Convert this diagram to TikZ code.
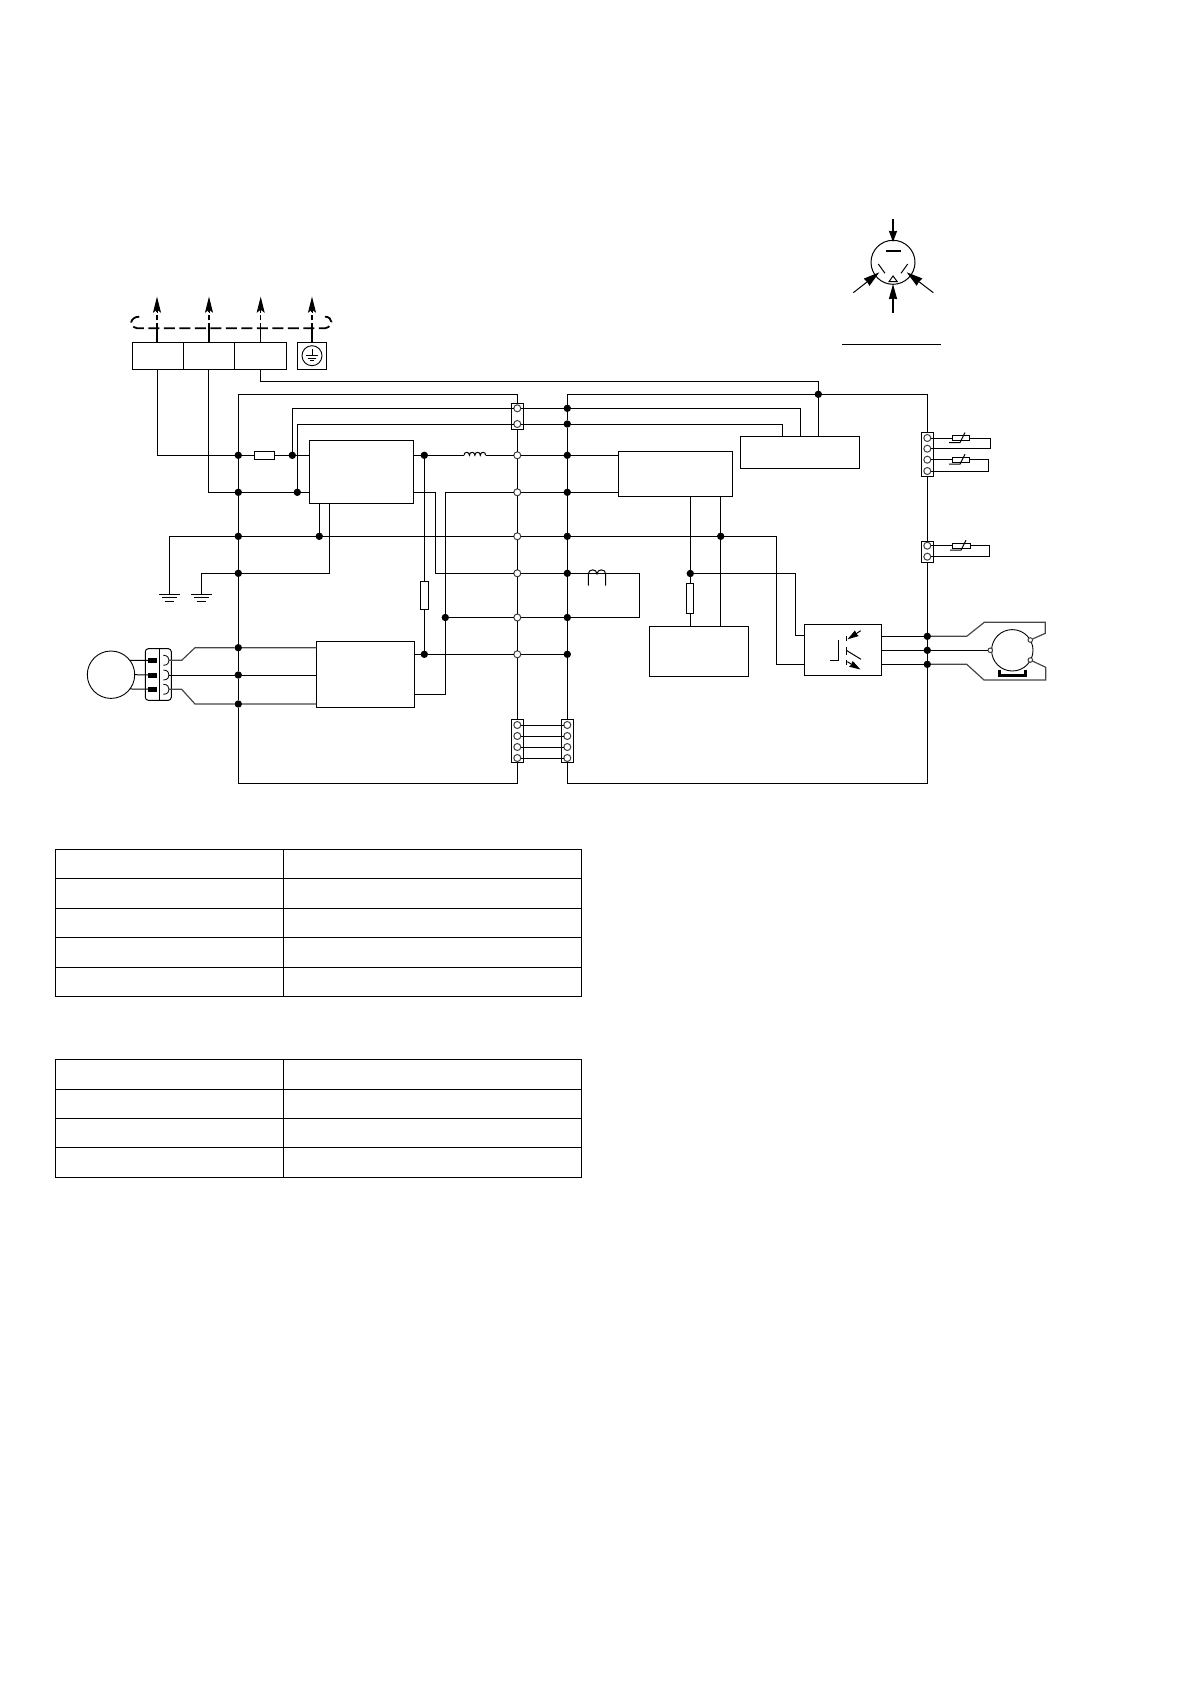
\documentclass[tikz,border=0pt]{standalone}
\usepackage{tikz}
\usetikzlibrary{calc,arrows.meta}
\tikzset{
	wire/.style={line width=1pt},
	greywire/.style={line width=1.2pt, color=black!72},
	busline/.style={line width=1.8pt},
	unitbox/.style={draw, rectangle, inner sep=0pt, outer sep=0pt, line width=1pt},
	soliddot/.style={circle, fill=black, inner sep=0pt, outer sep=0pt, minimum size=7.4pt},
	hollowdot/.style={circle, draw=black!75, fill=white, line width=1pt, inner sep=0pt, outer sep=0pt, minimum size=7pt},
	bigarrow/.style={-{Stealth[length=16pt, width=8pt, inset=3pt]}},
	smallarrow/.style={-{Stealth[length=11pt, width=6.5pt, inset=0.5pt]}},
}
\def\unitnode(#1)(#2:#3:#4){\node[unitbox, minimum width=#3pt, minimum height=#4pt] (#1) at (#2) {};}
\def\gndsign(#1,#2)(#3:#4:#5){
	\draw[wire] (#1-#3, #2) -- (#1+#3, #2);
	\draw[wire] (#1-#4, #2+3.4) -- (#1+#4, #2+3.4);
	\draw[wire] (#1-#5, #2+6.8) -- (#1+#5, #2+6.8);
}
\def\thermslash(#1,#2){
	\draw[wire] (#1-12, #2+4.5) -- (#1-1, #2+4.5) -- (#1+4, #2-5.5);
}
\begin{document}
\begin{tikzpicture}[x=1pt, y=-1pt]
			%%%%% START %%%%%
			\useasboundingbox (0, 0) rectangle (1190, 1684);

			% boxes
			\unitnode(termone)(157.8, 355.8:51:27)
			\unitnode(termtwo)(208.8, 355.8:51:27)
			\unitnode(termthree)(260.5, 355.8:52.4:27)
			\unitnode(earthbox)(312, 355.8:29.4:27)
			\unitnode(filter)(361.3, 471.65:104:63.3)
			\unitnode(inverter)(365.3, 674.3:98:66)
			\unitnode(control)(675.3, 473.8:114:45)
			\unitnode(relay)(799.8, 452.3:119:32)
			\unitnode(supply)(698.8, 651.3:99:50)
			\unitnode(driver)(843, 649.8:77.4:51)
			\unitnode(fuseone)(264.3, 455.3:20:8)
			\unitnode(fusetwo)(424.3, 595.3:8.4:28)
			\unitnode(fusethree)(690.3, 598.3:7:30)

			% plug blocks
			\unitnode(plugtop)(517.3, 416.3:11.4:26)
			\unitnode(plugleft)(517.3, 740.8:11.4:43)
			\unitnode(plugright)(567.3, 740.8:11.4:43)
			\unitnode(plugsense)(927.3, 454.3:11.4:44)
			\unitnode(plugcoil)(927.3, 551.8:12.4:21)

			% junctions
			\foreach \name/\ycoord in {la/455.3, lb/492.3, lc/536.3, ld/573.3, lg/647.7, lh/675, li/704}
				\node[soliddot] (\name) at (238.3, \ycoord) {};
			\foreach \name/\ycoord in {a/455.3, b/492.3, c/536.3, d/573.3, e/617.5, f/654.3} {
				\node[hollowdot] (o\name) at (517.3, \ycoord) {};
				\node[soliddot] (f\name) at (567.3, \ycoord) {};
			}
			\node[soliddot] (ftopone) at (567.3, 408.3) {};
			\node[soliddot] (ftoptwo) at (567.3, 424) {};
			\node[soliddot] (tapone) at (292.3, 455.3) {};
			\node[soliddot] (taptwo) at (297.3, 492.3) {};
			\node[soliddot] (tapthree) at (319.3, 536.3) {};
			\node[soliddot] (coilnode) at (424.3, 455.3) {};
			\node[soliddot] (fusenode) at (424.3, 654.3) {};
			\node[soliddot] (dcnode) at (445.3, 617.5) {};
			\node[soliddot] (relaynode) at (818.3, 394.3) {};
			\node[soliddot] (busnode) at (720.7, 536.3) {};
			\node[soliddot] (feednode) at (690.3, 573.5) {};
			\node[soliddot] (outone) at (927.3, 636.3) {};
			\node[soliddot] (outtwo) at (927.3, 650.3) {};
			\node[soliddot] (outthree) at (927.3, 664.3) {};

			% pins
			\node[hollowdot] (toppinone) at (517.3, 408.3) {};
			\node[hollowdot] (toppintwo) at (517.3, 424) {};
			\foreach \i/\ycoord in {1/725, 2/736, 3/747, 4/758} {
				\node[hollowdot] (lpin\i) at (517.3, \ycoord) {};
				\node[hollowdot] (rpin\i) at (567.3, \ycoord) {};
				\draw[wire] (lpin\i) -- (rpin\i);
			}
			\foreach \i/\ycoord in {1/438, 2/448.7, 3/459.7, 4/471}
				\node[hollowdot] (spin\i) at (927.3, \ycoord) {};
			\node[hollowdot] (cpinone) at (927.3, 545.7) {};
			\node[hollowdot] (cpintwo) at (927.3, 556.7) {};

			% frame
			\coordinate (frameltop) at (238.3, 394.3);
			\coordinate (framemtop) at (517.3, 394.3);
			\coordinate (framelbot) at (238.3, 783.3);
			\coordinate (framembot) at (517.3, 783.3);
			\coordinate (framertop) at (567.3, 394.3);
			\coordinate (framerbot) at (567.3, 783.3);
			\coordinate (frameftop) at (927.3, 394.3);
			\coordinate (framefbot) at (927.3, 783.3);
			\draw[wire] (la) -- (frameltop) -- (framemtop) -- (plugtop);
			\draw[wire] (la) -- (lb) -- (lc) -- (ld) -- (lg) -- (lh) -- (li) -- (framelbot) -- (framembot) -- (plugleft);
			\draw[wire] (plugtop) -- (oa) -- (ob) -- (oc) -- (od) -- (oe) -- (of) -- (plugleft);
			\draw[wire] (relaynode) -- (framertop) -- (ftopone) -- (ftoptwo) -- (fa) -- (fb) -- (fc) -- (fd) -- (fe) -- (ff) -- (plugright);
			\draw[wire] (plugright) -- (framerbot) -- (framefbot) -- (outthree) -- (outtwo) -- (outone) -- (plugcoil) -- (plugsense) -- (frameftop) -- (relaynode);

			% mains side
			\coordinate (relaytop) at (818.3, 381.3);
			\coordinate (relayone) at (782.3, 436.3);
			\coordinate (relaytwo) at (800.7, 436.3);
			\draw[wire] (termone.south) |- (la);
			\draw[wire] (termtwo.south) |- (lb);
			\draw[wire] (termthree.south) |- (relaytop) -- (relaynode) -- (relay.north -| relaynode);
			\draw[wire] (tapone) |- (toppinone) -- (ftopone) -| (relaytwo);
			\draw[wire] (taptwo) |- (toppintwo) -- (ftoptwo) -| (relayone);
			\draw[wire] (la) -- (fuseone) -- (tapone) -- (filter.west |- tapone);
			\draw[wire] (lb) -- (taptwo) -- (filter.west |- taptwo);

			% choke
			\coordinate (chokein) at (464, 455.3);
			\coordinate (chokeout) at (485.7, 455.3);
			\draw[wire] (filter.east |- coilnode) -- (coilnode) -- (chokein);
			\draw[wire] (chokein) \foreach \i in {1,...,4} { .. controls +(0, -4) and +(0, -4) .. ++(5.43, 0)};
			\draw[wire] (chokeout) -- (oa) -- (fa) -- (control.west |- fa);

			% dc lines
			\coordinate (jogtop) at (435.7, 492.3);
			\coordinate (jogbot) at (435.7, 573.3);
			\coordinate (coilcorner) at (639.7, 573.3);
			\coordinate (coilbot) at (639.7, 617.5);
			\coordinate (dctop) at (445.3, 492.3);
			\coordinate (dcbot) at (445.3, 694.3);
			\draw[wire] (filter.east |- jogtop) -- (jogtop) -- (jogbot) -- (od) -- (fd) -- (coilcorner) -- (coilbot) -- (fe) -- (oe) -- (dcnode);
			\draw[wire] (control.west |- fb) -- (fb) -- (ob) -- (dctop) -- (dcnode) -- (dcbot) -- (inverter.east |- dcbot);
			\draw[wire] (coilnode) -- (fusetwo) -- (fusenode);
			\draw[wire] (inverter.east |- fusenode) -- (fusenode) -- (of) -- (ff);

			% coil on the dc line
			\coordinate (smalllegone) at (588.3, 585.7);
			\coordinate (smalllegtwo) at (605.7, 585.7);
			\draw[wire] (smalllegone) -- (588.3, 574) .. controls +(0, -5.5) and +(0, -5.5) .. (597, 574) .. controls +(0, -5.5) and +(0, -5.5) .. (605.7, 574) -- (smalllegtwo);

			% earth bus
			\coordinate (gndone) at (169.3, 594.3);
			\coordinate (gndtwo) at (201.3, 594.3);
			\coordinate (filterfoot) at (329.3, 573.3);
			\coordinate (buscorner) at (776.3, 536.3);
			\coordinate (busdown) at (776.3, 664.3);
			\draw[wire] (gndone) |- (lc) -- (tapthree) -- (oc) -- (fc) -- (busnode) -- (buscorner) -- (busdown) -- (driver.west |- busdown);
			\draw[wire] (tapthree) -- (filter.south -| tapthree);
			\draw[wire] (gndtwo) |- (ld) -- (filterfoot) -- (filter.south -| filterfoot);
			\gndsign(169.3,594.3)(10.5:7.5:4.5)
			\gndsign(201.3,594.3)(10.5:7.5:4.5)

			% control outputs
			\coordinate (feedcorner) at (795.3, 573.5);
			\coordinate (feeddown) at (795.3, 635.7);
			\draw[wire] (control.south -| feednode) -- (feednode) -- (fusethree) -- (supply.north -| fusethree);
			\draw[wire] (control.south -| busnode) -- (busnode) -- (supply.north -| busnode);
			\draw[wire] (feednode) -- (feedcorner) -- (feeddown) -- (driver.west |- feeddown);

			% compressor side
			\node[circle, draw, line width=0.9pt, inner sep=0pt, outer sep=0pt, minimum size=47.4pt] (fanmotor) at (111, 674.7) {};
			\node[rectangle, draw, rounded corners=3pt, line width=1pt, inner sep=0pt, outer sep=0pt, minimum width=26pt, minimum height=51.6pt] (fanplug) at (158.3, 674.5) {};
			\draw[wire] (fanplug.north -| 159.3, 0) -- (fanplug.south -| 159.3, 0);
			\foreach \i/\ycoord in {1/660.3, 2/675, 3/689.3} {
				\node[rectangle, fill=black, inner sep=0pt, outer sep=0pt, minimum width=9pt, minimum height=5pt] (pad\i) at (152.5, \ycoord) {};
				\coordinate (sock\i) at (169, \ycoord);
				\draw[line width=0.8pt] (163.3, \ycoord-5) .. controls (168, \ycoord-5) and (169, \ycoord-2) .. (sock\i) .. controls (169, \ycoord+2) and (168, \ycoord+5) .. (163.3, \ycoord+5);
			}
			\draw[wire] (fanmotor.37) -- (pad1);
			\draw[wire] (fanmotor.east) -- (pad2);
			\draw[wire] (fanmotor.-37) -- (pad3);
			\draw[greywire] (sock1) -- (181.7, 660.3) -- (195, 647.7) -- (lg) -- (inverter.west |- lg);
			\draw[wire] (sock2) -- (lh) -- (inverter.west |- lh);
			\draw[greywire] (sock3) -- (181.7, 689.3) -- (195, 704) -- (li) -- (inverter.west |- li);

			% thermistors
			\node[unitbox, minimum width=17.4pt, minimum height=5.4pt] (thermone) at (961, 438) {};
			\node[unitbox, minimum width=17.4pt, minimum height=5.4pt] (thermtwo) at (961, 459.7) {};
			\node[unitbox, minimum width=18.4pt, minimum height=5.4pt] (thermthree) at (961.5, 545.7) {};
			\draw[wire] (spin1) -- (thermone) -- (thermone.east -| 990.3, 0) -- (990.3, 448.7) -- (spin2);
			\draw[wire] (spin3) -- (thermtwo) -- (thermtwo.east -| 988.3, 0) -- (988.3, 471) -- (spin4);
			\draw[wire] (cpinone) -- (thermthree) -- (thermthree.east -| 989.3, 0) -- (989.3, 556.7) -- (cpintwo);
			\thermslash(961,438)
			\thermslash(961,459.7)
			\thermslash(962,545.7)

			% fan motor right
			\node[circle, draw, line width=0.9pt, inner sep=0pt, outer sep=0pt, minimum size=41.4pt] (compressor) at (1012.3, 650.3) {};
			\node[hollowdot, minimum size=4.6pt] (mpinone) at (990.3, 650.3) {};
			\node[hollowdot, minimum size=4.6pt] (mpintwo) at (1030.3, 640) {};
			\node[hollowdot, minimum size=4.6pt] (mpinthree) at (1030.3, 660) {};
			\draw[wire] (driver.east |- outone) -- (outone);
			\draw[wire] (driver.east |- outtwo) -- (outtwo) -- (mpinone);
			\draw[wire] (driver.east |- outthree) -- (outthree);
			\draw[greywire] (outone) -- (966.7, 636.3) -- (984.3, 622.3) -- (1045.3, 622.3) -- (1045.3, 633.3) -- (mpintwo);
			\draw[greywire] (outthree) -- (966.7, 664.3) -- (984, 680) -- (1045.7, 680) -- (1045.7, 667.3) -- (mpinthree);
			\draw[line width=2.4pt] (999.5, 669.5) -- (999.5, 675.5) -- (1025.5, 675.5) -- (1025.5, 669.5);

			% switch symbol in the driver
			\draw[wire] (830.3, 660.3) -- (838.7, 660.3) -- (838.7, 640);
			\draw[wire] (846.3, 636) -- (846.3, 640.7);
			\draw[wire] (846.3, 646.7) -- (846.3, 655);
			\draw[wire] (846.3, 660) -- (846.3, 665);
			\draw[wire] (846.3, 650.3) -- (861, 659.3);
			\draw[wire, smallarrow] (860.7, 630.7) -- (847.5, 639.3);
			\draw[wire, smallarrow] (847.3, 661.7) -- (860.5, 669.5);

			% supply terminals
			\foreach \nm/\xcoord/\wd in {termone/157/1.8, termtwo/209/1.8, termthree/260.7/1.1, earthbox/312/1.8} {
				\draw[line width=\wd pt] (\nm.north -| \xcoord, 0) -- (\xcoord, 328.3);
				\draw[line width=\wd pt, dash pattern=on 5.5pt off 2.5pt] (\xcoord, 328.3) -- (\xcoord, 310);
				\draw[wire, bigarrow] (\xcoord, 313) -- (\xcoord, 296.7);
			}
			\draw[busline, dash pattern=on 11pt off 4.5pt] (139.3, 316.7) .. controls (130, 316.7) and (128, 326.5) .. (137.3, 328.3) -- (325, 328.3) .. controls (334, 326.5) and (333, 316.7) .. (325, 316.7);
			\node[circle, draw, line width=0.9pt, inner sep=0pt, outer sep=0pt, minimum size=20pt] (earthring) at (312, 355.7) {};
			\draw[wire] (312, 349) -- (312, 355.7);
			\draw[wire] (305.8, 355.7) -- (318.2, 355.7);
			\draw[wire] (308.3, 358.3) -- (315.7, 358.3);
			\draw[wire] (310, 360.8) -- (314, 360.8);

			% diode symbol
			\node[circle, draw, line width=1pt, inner sep=0pt, outer sep=0pt, minimum size=44pt] (diode) at (893, 262.3) {};
			\draw[line width=1.7pt, -{Stealth[length=11pt, width=8pt, inset=0.5pt]}] (893, 219) -- (893, 242);
			\draw[line width=1.7pt, -{Stealth[length=15pt, width=8pt, inset=0.5pt]}] (893, 312.7) -- (893, 284);
			\draw[wire, -{Stealth[length=16pt, width=9pt, inset=0.5pt]}] (853.3, 292.7) -- (879.3, 272.3);
			\draw[wire, -{Stealth[length=16pt, width=9pt, inset=0.5pt]}] (933.3, 292.7) -- (906.7, 272.3);
			\draw[line width=1.8pt] (886, 250.7) -- (900.7, 250.7);
			\draw[wire] (878.3, 264) -- (885, 273.3);
			\draw[wire] (907.7, 264) -- (901, 273.3);
			\draw[wire] (893, 276) -- (889, 281.7) -- (897.3, 281.7) -- cycle;
			\draw[wire] (842.3, 344.3) -- (940.7, 344.3);

			% tables
			\draw[wire] (55.3, 849.3) rectangle (581.3, 996);
			\draw[wire] (283.7, 849.3) -- (283.7, 996);
			\foreach \ycoord in {878.3, 908.3, 937.3, 967.3}
				\draw[wire] (55.3, \ycoord) -- (581.3, \ycoord);
			\draw[wire] (55.3, 1059.3) rectangle (581.3, 1177.3);
			\draw[wire] (283.7, 1059.3) -- (283.7, 1177.3);
			\foreach \ycoord in {1089.3, 1118.3, 1147.3}
				\draw[wire] (55.3, \ycoord) -- (581.3, \ycoord);
			%%%%% END %%%%%
\end{tikzpicture}
\end{document}
